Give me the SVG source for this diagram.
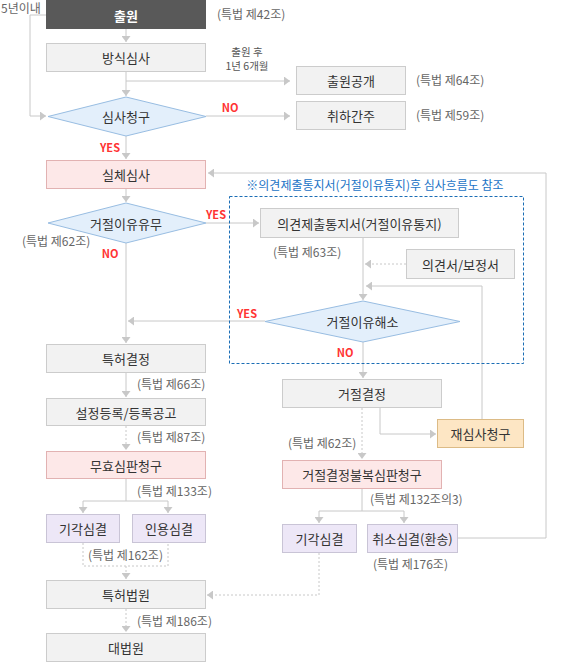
<svg xmlns="http://www.w3.org/2000/svg" width="570" height="663" viewBox="0 0 570 663">
<style>
text{font-family:"Noto Sans CJK KR","Malgun Gothic","Liberation Sans",sans-serif}
.n{font-size:13px;fill:#333;text-anchor:middle;dominant-baseline:central}
.l{font-size:12px;fill:#666}
.s{font-size:10.5px;fill:#555;text-anchor:middle}
.yn{font-size:11px;fill:#ff3333;font-weight:bold;text-anchor:middle;dominant-baseline:central}
.g{fill:#f2f2f2;stroke:#cccccc;stroke-width:1}
.p{fill:#fde8e8;stroke:#e2b2b2;stroke-width:1}
.v{fill:#ede7f7;stroke:#c9c4d6;stroke-width:1}
.o{fill:#fde6c4;stroke:#dcbb86;stroke-width:1}
.d{fill:#e3effb;stroke:#98bde2;stroke-width:1}
.c{fill:none;stroke:#c8c8c8;stroke-width:1}
.cd{fill:none;stroke:#c8c8c8;stroke-width:1;stroke-dasharray:2 2}
</style>
<defs>
<marker id="ah" markerUnits="userSpaceOnUse" viewBox="0 0 6 9" refX="6" refY="4.5" markerWidth="6" markerHeight="9" orient="auto">
<path d="M0,0 L6,4.5 L0,9 z" fill="#c8c8c8"/>
</marker>
</defs>

<g id="connectors">
<line class="c" x1="126" y1="29" x2="126" y2="42" marker-end="url(#ah)"/>
<line class="c" x1="126" y1="72" x2="126" y2="96" marker-end="url(#ah)"/>
<line class="c" x1="126" y1="81" x2="290" y2="81" marker-end="url(#ah)"/>
<polyline class="c" points="46,15 30,15 30,116 46,116" marker-end="url(#ah)"/>
<line class="c" x1="206" y1="116" x2="290" y2="116" marker-end="url(#ah)"/>
<line class="c" x1="126" y1="136" x2="126" y2="159" marker-end="url(#ah)"/>
<line class="c" x1="126" y1="189" x2="126" y2="202" marker-end="url(#ah)"/>
<polyline class="c" points="458,538 546,538 546,173 208,173" marker-end="url(#ah)"/>
<line class="c" x1="206" y1="223" x2="259" y2="223" marker-end="url(#ah)"/>
<line class="c" x1="126" y1="243" x2="126" y2="343" marker-end="url(#ah)"/>
<line class="c" x1="363" y1="238" x2="363" y2="300" marker-end="url(#ah)"/>
<line class="cd" x1="406" y1="264" x2="365" y2="264" marker-end="url(#ah)"/>
<polyline class="c" points="482,419 482,286 366,286" marker-end="url(#ah)"/>
<line class="c" x1="265" y1="321" x2="128" y2="321" marker-end="url(#ah)"/>
<line class="c" x1="363" y1="342" x2="363" y2="378" marker-end="url(#ah)"/>
<line class="c" x1="126" y1="373" x2="126" y2="397" marker-end="url(#ah)"/>
<line class="cd" x1="126" y1="426" x2="126" y2="450" marker-end="url(#ah)"/>
<line class="c" x1="126" y1="479" x2="126" y2="501"/>
<line class="c" x1="83" y1="501" x2="168" y2="501"/>
<line class="c" x1="83" y1="501" x2="83" y2="513" marker-end="url(#ah)"/>
<line class="c" x1="168" y1="501" x2="168" y2="513" marker-end="url(#ah)"/>
<polyline class="cd" points="83,543 83,566 168,566 168,543"/>
<line class="cd" x1="126" y1="566" x2="126" y2="579" marker-end="url(#ah)"/>
<line class="cd" x1="126" y1="609" x2="126" y2="632" marker-end="url(#ah)"/>
<line class="cd" x1="362" y1="408" x2="362" y2="459" marker-end="url(#ah)"/>
<polyline class="c" points="380,408 380,434 436,434" marker-end="url(#ah)"/>
<line class="c" x1="362" y1="489" x2="362" y2="511"/>
<line class="c" x1="319" y1="511" x2="404" y2="511"/>
<line class="c" x1="319" y1="511" x2="319" y2="523" marker-end="url(#ah)"/>
<line class="c" x1="404" y1="511" x2="404" y2="523" marker-end="url(#ah)"/>
<polyline class="cd" points="319,553 319,595 207,595" marker-end="url(#ah)"/>
</g>

<g id="annotations">
<text class="l" x="1" y="13">5년이내</text>
<text class="s" x="247" y="56">출원 후</text>
<text class="s" x="247" y="70">1년 6개월</text>
<text class="yn" x="230" y="107">NO</text>
<text class="yn" x="110" y="147">YES</text>
<text class="yn" x="216" y="214">YES</text>
<text class="yn" x="110" y="253">NO</text>
<text class="yn" x="247" y="313">YES</text>
<text class="yn" x="345" y="352">NO</text>
<text x="375" y="190" style="font-size:12px;fill:#1a73c6;text-anchor:middle">※의견제출통지서(거절이유통지)후 심사흐름도 참조</text>
<rect x="229.5" y="196.5" width="294" height="167" fill="none" stroke="#1a6db5" stroke-width="1" stroke-dasharray="3 2"/>
<text class="l" x="217" y="19">(특법 제42조)</text>
<text class="l" x="416" y="85">(특법 제64조)</text>
<text class="l" x="416" y="120">(특법 제59조)</text>
<text class="l" x="22" y="246">(특법 제62조)</text>
<text class="l" x="273" y="257">(특법 제63조)</text>
<text class="l" x="137" y="389">(특법 제66조)</text>
<text class="l" x="137" y="442">(특법 제87조)</text>
<text class="l" x="137" y="496">(특법 제133조)</text>
<text class="l" x="88" y="560">(특법 제162조)</text>
<text class="l" x="137" y="626">(특법 제186조)</text>
<text class="l" x="288" y="448">(특법 제62조)</text>
<text class="l" x="370" y="504">(특법 제132조의3)</text>
<text class="l" x="373" y="569">(특법 제176조)</text>
</g>

<g id="n-chulwon"><rect x="46" y="0" width="160" height="29" fill="#595959"/><text class="n" x="126" y="15" style="fill:#fff;font-weight:bold">출원</text></g>
<g id="n-bangsik"><rect class="g" x="46.5" y="43.5" width="159" height="28"/><text class="n" x="126" y="57.5">방식심사</text></g>
<g id="n-gonggae"><rect class="g" x="296.5" y="66.5" width="109" height="28"/><text class="n" x="351" y="80.5">출원공개</text></g>
<g id="n-chwiha"><rect class="g" x="296.5" y="101.5" width="109" height="28"/><text class="n" x="351" y="115.5">취하간주</text></g>
<g id="n-simsa"><polygon class="d" points="48,116.5 126,97 206,116.5 126,136"/><text class="n" x="126" y="116.5">심사청구</text></g>
<g id="n-silche"><rect class="p" x="46.5" y="160.5" width="159" height="28"/><text class="n" x="126" y="174.5">실체심사</text></g>
<g id="n-yumu"><polygon class="d" points="48,223 126,203 206,223 126,243"/><text class="n" x="126" y="223">거절이유유무</text></g>
<g id="n-tongji"><rect class="g" x="260.5" y="208.5" width="198" height="29"/><text class="n" x="359.5" y="223">의견제출통지서(거절이유통지)</text></g>
<g id="n-uigyeon"><rect class="g" x="406.5" y="249.5" width="108" height="29"/><text class="n" x="460.5" y="264">의견서/보정서</text></g>
<g id="n-haeso"><polygon class="d" points="265,321.5 363,301 460,321.5 363,342"/><text class="n" x="362.5" y="321.5">거절이유해소</text></g>
<g id="n-teukheo"><rect class="g" x="46.5" y="344.5" width="159" height="28"/><text class="n" x="126" y="358.5">특허결정</text></g>
<g id="n-seoljeong"><rect class="g" x="46.5" y="398.5" width="159" height="27"/><text class="n" x="126" y="412">설정등록/등록공고</text></g>
<g id="n-muhyo"><rect class="p" x="46.5" y="451.5" width="159" height="27"/><text class="n" x="126" y="465">무효심판청구</text></g>
<g id="n-gigak1"><rect class="v" x="46.5" y="514.5" width="73" height="28"/><text class="n" x="83" y="528.5">기각심결</text></g>
<g id="n-inyong"><rect class="v" x="132.5" y="514.5" width="73" height="28"/><text class="n" x="169" y="528.5">인용심결</text></g>
<g id="n-beobwon"><rect class="g" x="46.5" y="580.5" width="159" height="28"/><text class="n" x="126" y="594.5">특허법원</text></g>
<g id="n-daebeobwon"><rect class="g" x="46.5" y="633.5" width="159" height="28"/><text class="n" x="126" y="647.5">대법원</text></g>
<g id="n-geojeol"><rect class="g" x="282.5" y="379.5" width="159" height="28"/><text class="n" x="362" y="393.5">거절결정</text></g>
<g id="n-jaesimsa"><rect class="o" x="437.5" y="419.5" width="86" height="28"/><text class="n" x="480.5" y="433.5">재심사청구</text></g>
<g id="n-bulbok"><rect class="p" x="282.5" y="460.5" width="159" height="28"/><text class="n" x="362" y="474.5">거절결정불복심판청구</text></g>
<g id="n-gigak2"><rect class="v" x="282.5" y="524.5" width="74" height="28"/><text class="n" x="319.5" y="538.5">기각심결</text></g>
<g id="n-chwiso"><rect class="v" x="367.5" y="524.5" width="90" height="28"/><text class="n" x="412.5" y="538.5">취소심결(환송)</text></g>
</svg>
